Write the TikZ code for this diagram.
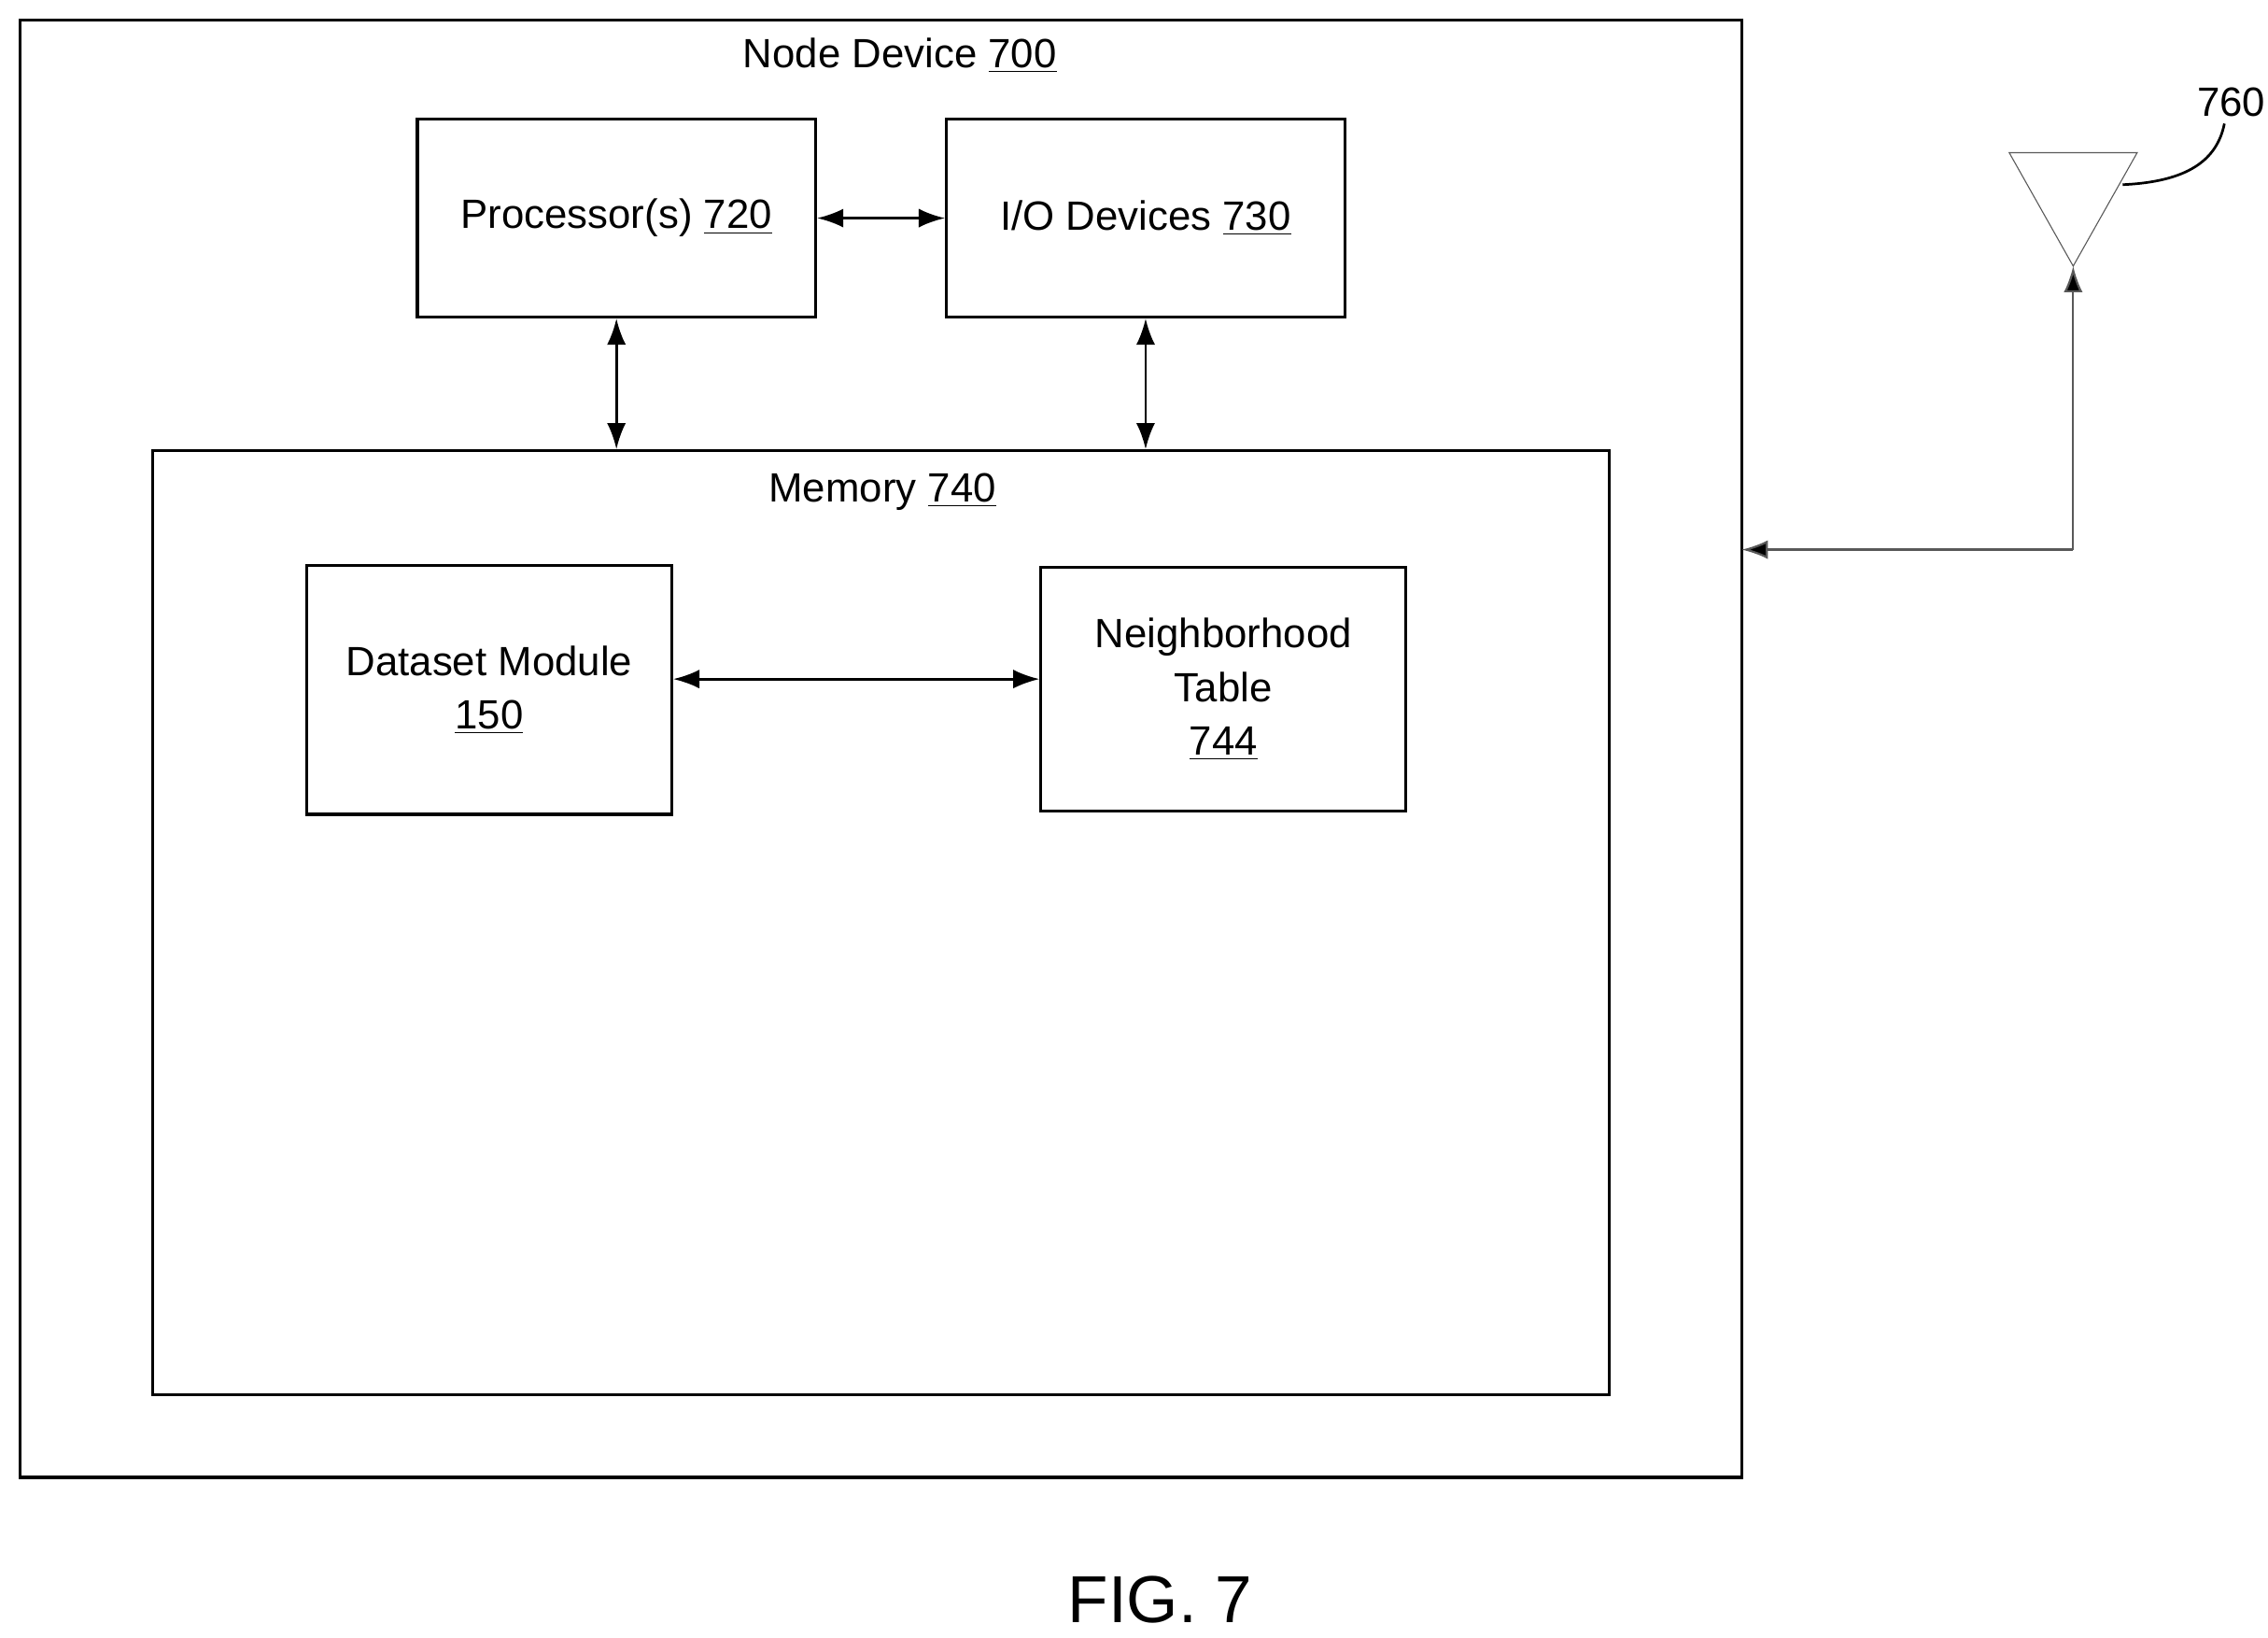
\documentclass[tikz,border=0pt]{standalone}
\usepackage{fontspec}
\setmainfont{Liberation Sans}
\usetikzlibrary{arrows.meta, positioning}
\begin{document}
\begin{tikzpicture}[x=0.02cm, y=-0.02cm,
  box/.style={rectangle, draw=black, line width=1.2pt, align=center, font=\fontsize{16}{21}\selectfont, inner sep=0pt},
  lbl/.style={font=\fontsize{16}{20}\selectfont},
  arrow/.style={line width=1pt, {Latex[length=0.36cm, width=0.26cm]}-{Latex[length=0.36cm, width=0.26cm]}}]
  \useasboundingbox (0,0) rectangle (1560,1126);

  % Frames
  \node (device) [box, minimum width=1184*0.02cm, minimum height=1002*0.02cm] at (606,515) {};
  \node (devlbl) [lbl] at (619,38) {Node Device \underline{700}};
  \node (memory) [box, minimum width=1002*0.02cm, minimum height=649*0.02cm] at (606,634.5) {};
  \node (memlbl) [lbl] at (607,338) {Memory \underline{740}};

  % Nodes
  \node (proc) [box, minimum width=274*0.02cm, minimum height=136*0.02cm] at (424,150) {Processor(s) \underline{720}};
  \node (io) [box, minimum width=274*0.02cm, minimum height=136*0.02cm] at (788,150) {I/O Devices \underline{730}};
  \node (dataset) [box, minimum width=251*0.02cm, minimum height=171*0.02cm] at (336.5,474.5) {Dataset Module\\\underline{150}};
  \node (table) [box, minimum width=251*0.02cm, minimum height=168*0.02cm] at (841.5,474) {Neighborhood\\Table\\\underline{744}};

  % Antenna
  \coordinate (apex) at (1426,183);
  \coordinate (bend) at (1426,378);
  \coordinate (devin) at (1198,378);
  \draw[gray!70!black] (1382,105) -- (1470,105) -- (apex) -- cycle;
  \node (antlbl) [lbl, anchor=west] at (1505,70) {760};
  \draw[black, line width=1pt] (1460,127) .. controls (1505,125) and (1525,110) .. (1530,85);

  % Arrows
  \draw [arrow] (proc) -- (io);
  \draw [arrow] (proc.south) -- (proc.south |- memory.north);
  \draw [arrow] (io.south) -- (io.south |- memory.north);
  \draw [arrow] (dataset.east |- 0,467) -- (table.west |- 0,467);
  \draw [line width=0.8pt, gray!70!black, -{Latex[length=0.36cm, width=0.26cm, fill=black]}] (bend) -- (devin);
  \draw [line width=0.8pt, gray!70!black, -{Latex[length=0.36cm, width=0.26cm, fill=black]}] (bend) -- (apex);

  \node (fig) [font=\fontsize{26}{30}\selectfont] at (798,1100) {FIG. 7};
\end{tikzpicture}
\end{document}
